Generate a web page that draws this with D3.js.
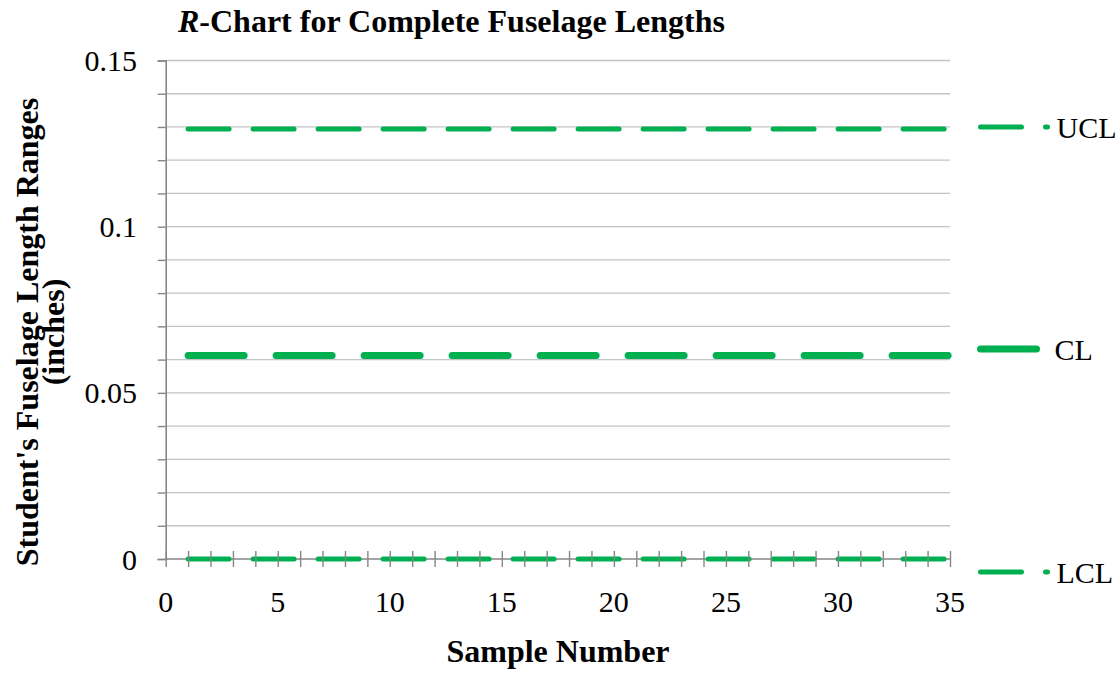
<!DOCTYPE html>
<html>
<head>
<meta charset="utf-8">
<script src="https://cdn.jsdelivr.net/npm/d3@7"></script>
<style>
  html, body { margin: 0; padding: 0; background: #fff; }
  svg { display: block; font-family: "Liberation Serif", "Times New Roman", serif; }
</style>
</head>
<body>
<svg id="chart" width="1120" height="674"></svg>
<script>
// Sample numbers 1..35
const sampleNumbers = [1, 2, 3, 4, 5, 6, 7, 8, 9, 10, 11, 12, 13, 14, 15, 16, 17, 18,
  19, 20, 21, 22, 23, 24, 25, 26, 27, 28, 29, 30, 31, 32, 33, 34, 35];

// Control limits for each sample (range chart)
const uclValues = [0.1294, 0.1294, 0.1294, 0.1294, 0.1294, 0.1294, 0.1294, 0.1294, 0.1294,
  0.1294, 0.1294, 0.1294, 0.1294, 0.1294, 0.1294, 0.1294, 0.1294, 0.1294, 0.1294, 0.1294,
  0.1294, 0.1294, 0.1294, 0.1294, 0.1294, 0.1294, 0.1294, 0.1294, 0.1294, 0.1294, 0.1294,
  0.1294, 0.1294, 0.1294, 0.1294];
const clValues = [0.0612, 0.0612, 0.0612, 0.0612, 0.0612, 0.0612, 0.0612, 0.0612, 0.0612,
  0.0612, 0.0612, 0.0612, 0.0612, 0.0612, 0.0612, 0.0612, 0.0612, 0.0612, 0.0612, 0.0612,
  0.0612, 0.0612, 0.0612, 0.0612, 0.0612, 0.0612, 0.0612, 0.0612, 0.0612, 0.0612, 0.0612,
  0.0612, 0.0612, 0.0612, 0.0612];
const lclValues = [0, 0, 0, 0, 0, 0, 0, 0, 0, 0, 0, 0, 0, 0, 0, 0, 0, 0, 0, 0, 0, 0, 0, 0,
  0, 0, 0, 0, 0, 0, 0, 0, 0, 0, 0];

const seriesNames = ["UCL", "CL", "LCL"];

const xTickLabels = [0, 5, 10, 15, 20, 25, 30, 35];
const yTickLabels = [0, 0.05, 0.1, 0.15];

const svg = d3.select("#chart");
const green = "#00b050";
const axisGray = "#868686";

const x = d3.scaleLinear().domain([0, 35]).range([165.7, 950]);
const y = d3.scaleLinear().domain([0, 0.15]).range([559, 60.5]);

// Drawing layers, back to front
const gridLayer = svg.append("g");
const baseLayer = svg.append("g");
const seriesLayer = svg.append("g");
const tickLayer = svg.append("g");
const textLayer = svg.append("g");

// Horizontal gridlines every 0.01
const gridVals = d3.range(0, 16).map(i => i / 100);
gridLayer.selectAll("line")
  .data(gridVals.filter(v => v > 0))
  .join("line")
  .attr("x1", x(0)).attr("x2", x(35))
  .attr("y1", d => y(d)).attr("y2", d => y(d))
  .attr("stroke", "#c4c4c4").attr("stroke-width", 1.3);

// Y axis with a tick at every gridline
const yAxis = baseLayer.append("g")
  .attr("transform", `translate(${x(0)},0)`)
  .call(d3.axisLeft(y).tickValues(gridVals).tickSize(8).tickFormat(""));
yAxis.select(".domain").attr("stroke", axisGray).attr("stroke-width", 1.6);
yAxis.selectAll(".tick line").attr("stroke", axisGray).attr("stroke-width", 1.4);

// X axis baseline (under the series)
baseLayer.append("line")
  .attr("x1", x(0)).attr("x2", x(35))
  .attr("y1", y(0)).attr("y2", y(0))
  .attr("stroke", axisGray).attr("stroke-width", 1.6);

// Series lines
const styles = {
  UCL: { width: 5, dash: "41,24" },
  CL: { width: 7, dash: "56,32" },
  LCL: { width: 5, dash: "41,24" }
};
const seriesData = {
  UCL: sampleNumbers.map((s, i) => [s, uclValues[i]]),
  CL: sampleNumbers.map((s, i) => [s, clValues[i]]),
  LCL: sampleNumbers.map((s, i) => [s, lclValues[i]])
};
const line = d3.line().x(d => x(d[0])).y(d => y(d[1]));

seriesNames.forEach(name => {
  seriesLayer.append("path")
    .datum(seriesData[name])
    .attr("d", line)
    .attr("fill", "none")
    .attr("stroke", green)
    .attr("stroke-width", styles[name].width)
    .attr("stroke-linecap", "round")
    .attr("stroke-dasharray", styles[name].dash);
});

// X axis ticks cross the axis line, drawn above the LCL dashes
const xAxis = tickLayer.append("g")
  .attr("transform", `translate(0,${y(0)})`)
  .call(d3.axisBottom(x).tickValues(d3.range(0, 36)).tickSizeInner(8).tickSizeOuter(0).tickFormat(""));
xAxis.select(".domain").remove();
xAxis.selectAll(".tick line").attr("y1", -8).attr("y2", 8)
  .attr("stroke", axisGray).attr("stroke-width", 1.4);

// Tick labels
textLayer.append("g")
  .selectAll("text")
  .data(yTickLabels)
  .join("text")
  .attr("x", 137)
  .attr("y", d => y(d))
  .attr("dy", "0.35em")
  .attr("text-anchor", "end")
  .attr("font-size", 30)
  .attr("fill", "#000")
  .text(d => d);

textLayer.append("g")
  .selectAll("text")
  .data(xTickLabels)
  .join("text")
  .attr("x", d => x(d))
  .attr("y", 612)
  .attr("text-anchor", "middle")
  .attr("font-size", 30)
  .attr("fill", "#000")
  .text(d => d);

// Legend
const legendY = { UCL: 127, CL: 349, LCL: 572 };
const legendLen = { UCL: 67, CL: 56, LCL: 67 };
seriesNames.forEach(name => {
  const g = textLayer.append("g").attr("transform", `translate(980.5,${legendY[name]})`);
  g.append("line")
    .attr("x1", 0).attr("x2", legendLen[name])
    .attr("stroke", green)
    .attr("stroke-width", styles[name].width)
    .attr("stroke-linecap", "round")
    .attr("stroke-dasharray", styles[name].dash);
  g.append("text")
    .attr("x", name === "CL" ? 74 : 76)
    .attr("dy", "0.35em")
    .attr("font-size", 30)
    .attr("fill", "#000")
    .text(name);
});

// Title
const title = textLayer.append("text")
  .attr("x", 178)
  .attr("y", 32)
  .attr("font-size", 32)
  .attr("font-weight", "bold")
  .attr("fill", "#000");
title.append("tspan").attr("font-style", "italic").text("R");
title.append("tspan").text("-Chart for Complete Fuselage Lengths");

// Axis titles
const yTitle = textLayer.append("text")
  .attr("transform", "translate(0,332) rotate(-90)")
  .attr("text-anchor", "middle")
  .attr("font-size", 32)
  .attr("font-weight", "bold")
  .attr("fill", "#000");
yTitle.append("tspan").attr("x", 0).attr("y", 38).text("Student's Fuselage Length Ranges");
yTitle.append("tspan").attr("x", 0).attr("y", 64).text("(inches)");

textLayer.append("text")
  .attr("x", 558)
  .attr("y", 662)
  .attr("text-anchor", "middle")
  .attr("font-size", 32)
  .attr("font-weight", "bold")
  .attr("fill", "#000")
  .text("Sample Number");
</script>
</body>
</html>
